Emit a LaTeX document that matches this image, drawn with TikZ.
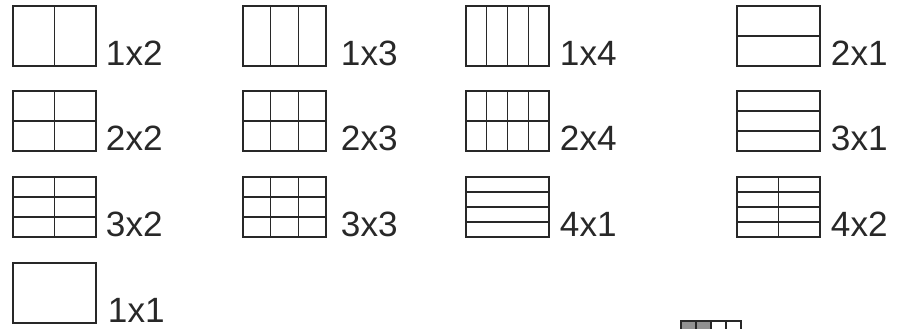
\documentclass[tikz,border=0pt]{standalone}
\usepackage{fontspec}
\setmainfont{Liberation Sans}
\usepackage{xcolor}
\definecolor{inkgray}{RGB}{40, 40, 40}
\definecolor{cellgray}{RGB}{145, 145, 145}
\usepackage{tikz}
\usetikzlibrary{
    positioning,
    calc
}

\begin{document}
\begin{tikzpicture}[
    x=0.02cm, y=-0.02cm,
    every node/.style={inner sep=0pt, outer sep=0pt},
    frame/.style={draw=inkgray, line width=0.6pt, anchor=north west, minimum width=1.66cm, minimum height=1.2cm},
    divline/.style={draw=inkgray, line width=0.6pt},
    tag/.style={font=\fontsize{20}{24}\selectfont, text=inkgray, anchor=base west},
    minicell/.style={draw=inkgray, line width=0.6pt, anchor=north west, minimum width=0.3cm, minimum height=0.3cm}
]

\clip (0,0) rectangle (898,328);

% ==================== LAYOUT GRIDS ====================
\foreach \gx/\gy/\nr/\nc/\gap in {
    13/6/1/2/10,  243/6/1/3/15,   466/6/1/4/11,   737/6/2/1/11,
    13/91/2/2/10, 243/91/2/3/15,  466/91/2/4/11,  737/91/3/1/11,
    13/177/3/2/10, 243/177/3/3/15, 466/177/4/1/11, 737/177/4/2/11,
    13/263/1/1/12} {
    \node[frame] (g\nr x\nc) at (\gx,\gy) {};
    \foreach \i in {1,...,\nc} {
        \ifnum\i<\nc
            \draw[divline] ($(g\nr x\nc.north west)!\i/\nc!(g\nr x\nc.north east)$)
                -- ($(g\nr x\nc.south west)!\i/\nc!(g\nr x\nc.south east)$);
        \fi
    }
    \foreach \j in {1,...,\nr} {
        \ifnum\j<\nr
            \draw[divline] ($(g\nr x\nc.north west)!\j/\nr!(g\nr x\nc.south west)$)
                -- ($(g\nr x\nc.north east)!\j/\nr!(g\nr x\nc.south east)$);
        \fi
    }
    \node[tag] (t\nr x\nc) at ([xshift=\gap*0.02cm]g\nr x\nc.south east) {\nr x\nc};
}

% ==================== PARTLY SHOWN STRIP ====================
\node[minicell, fill=cellgray] (s1) at (681,321) {};
\node[minicell, fill=cellgray, right=0pt of s1] (s2) {};
\node[minicell, right=0pt of s2] (s3) {};
\node[minicell, right=0pt of s3] (s4) {};

\end{tikzpicture}
\end{document}
